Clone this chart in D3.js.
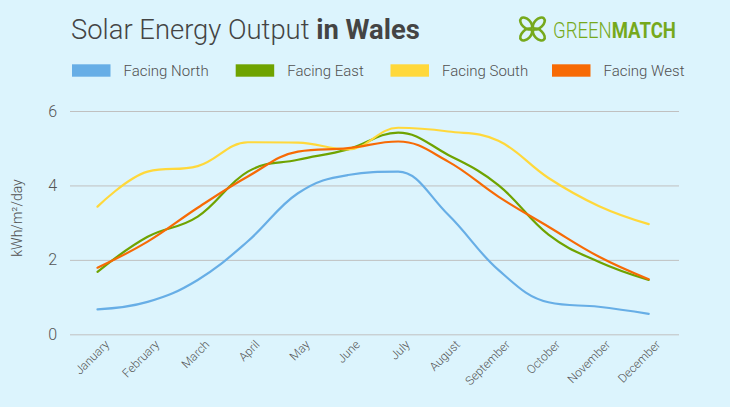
<!DOCTYPE html>
<html><head><meta charset="utf-8">
<script src="https://cdn.jsdelivr.net/npm/d3@7"></script>
<style>
html,body{margin:0;padding:0;background:#dcf4fd;}
svg{display:block;font-family:Roboto,"Open Sans",sans-serif;}
</style></head>
<body><svg id="c" width="730" height="407"></svg>
<script>
const months = ["January","February","March","April","May","June","July","August","September","October","November","December"];
const seriesNames = ["Facing North","Facing East","Facing South","Facing West"];
const seriesColors = ["#67aee6","#6fa300","#ffd83b","#f76a05"];
const north = [0.67, 0.87, 1.46, 2.50, 3.79, 4.28, 4.37, 3.21, 1.73, 0.86, 0.74, 0.55];
const east  = [1.68, 2.62, 3.16, 4.37, 4.69, 4.97, 5.42, 4.82, 4.01, 2.68, 1.95, 1.46];
const south = [3.43, 4.37, 4.52, 5.16, 5.15, 4.97, 5.55, 5.45, 5.20, 4.20, 3.45, 2.96];
const west  = [1.79, 2.49, 3.40, 4.24, 4.91, 5.00, 5.18, 4.64, 3.70, 2.89, 2.09, 1.48];
const yTicks = [0,2,4,6];

const svg = d3.select("#c");
svg.append("rect").attr("width",730).attr("height",407).attr("fill","#dcf4fd");

const x = d3.scalePoint().domain(months).range([97.5, 648.7]);
const y = d3.scaleLinear().domain([0,6]).range([334.3, 111]);

// title
const t = svg.append("text").attr("x",71).attr("y",39).attr("font-size",27.4).attr("fill","#444");
t.append("tspan").attr("font-weight",300).text("Solar Energy Output ");
t.append("tspan").attr("font-weight",700).text("in Wales");

// logo
const logo = svg.append("g").attr("transform","translate(532.5,29)");
[[-1,-1],[1,-1],[-1,1],[1,1]].forEach(([sx,sy])=>{
  logo.append("ellipse").attr("cx",sx*6.3).attr("cy",sy*5.6).attr("rx",7.2).attr("ry",4.3)
    .attr("transform",`rotate(${sx*sy*45} ${sx*6.3} ${sy*5.6})`)
    .attr("fill","none").attr("stroke","#76a91c").attr("stroke-width",2.6);
});
const lg = svg.append("g");
const lt = lg.append("text").attr("x",0).attr("y",0).attr("font-size",22).attr("fill","#76a91c");
lt.append("tspan").attr("font-weight",300).text("GREEN");
lt.append("tspan").attr("font-weight",700).text("MATCH");
const lw = lt.node().getComputedTextLength() || 140;
lg.attr("transform",`translate(553,37.5) scale(${123/lw},1)`);

// legend
const legX = [72, 235.7, 390.5, 552];
seriesNames.forEach((n,i)=>{
  svg.append("rect").attr("x",legX[i]).attr("y",64.3).attr("width",38.5).attr("height",12.4).attr("fill",seriesColors[i]);
  svg.append("text").attr("x",legX[i]+51.5).attr("y",75.5).attr("font-size",15).attr("font-weight",300)
    .attr("fill","#505050").text(n);
});

// y axis with grid
const ya = svg.append("g").attr("transform","translate(70,0)")
  .call(d3.axisLeft(y).tickValues(yTicks).tickSize(-609).tickPadding(13).tickFormat(d3.format("d")));
ya.select(".domain").remove();
ya.selectAll(".tick line").attr("stroke","#c0c0c0").attr("stroke-width",1);
ya.selectAll(".tick text").attr("font-size",16).attr("font-weight",300).attr("fill","#555").attr("font-family","Roboto");

svg.append("text").attr("transform","translate(22,218) rotate(-90)").attr("text-anchor","middle")
  .attr("font-size",14).attr("font-weight",300).attr("fill","#505050").text("kWh/m²/day");

// x axis labels
const xa = svg.append("g").attr("transform","translate(0,334.3)")
  .call(d3.axisBottom(x).tickSize(0).tickPadding(0));
xa.select(".domain").remove();
xa.selectAll(".tick text").attr("font-size",12).attr("font-weight",300).attr("fill","#555").attr("font-family","Roboto")
  .attr("text-anchor","end").attr("dy",null).attr("y",null)
  .attr("transform","translate(12,11) rotate(-45)");

// Highcharts-like spline
function spline(vals){
  const pts = vals.map((v,i)=>[x(months[i]), y(v)]);
  const p = d3.path(); const sm=1.5, den=2.5;
  let prc=null;
  pts.forEach(([px,py],i)=>{
    if(i===0){p.moveTo(px,py); prc=[px,py]; return;}
    let lcx=px,lcy=py,rcx=px,rcy=py;
    if(i<pts.length-1){
      const [lx,ly]=pts[i-1],[nx,ny]=pts[i+1];
      lcx=(sm*px+lx)/den; lcy=(sm*py+ly)/den; rcx=(sm*px+nx)/den; rcy=(sm*py+ny)/den;
      let corr=0;
      if(rcx!==lcx) corr=((rcy-lcy)*(rcx-px))/(rcx-lcx)+py-rcy;
      lcy+=corr; rcy+=corr;
      if(lcy>ly&&lcy>py){lcy=Math.max(ly,py); rcy=2*py-lcy;}
      else if(lcy<ly&&lcy<py){lcy=Math.min(ly,py); rcy=2*py-lcy;}
      if(rcy>ny&&rcy>py){rcy=Math.max(ny,py); lcy=2*py-rcy;}
      else if(rcy<ny&&rcy<py){rcy=Math.min(ny,py); lcy=2*py-rcy;}
    }
    p.bezierCurveTo(prc[0],prc[1],lcx,lcy,px,py);
    prc=[rcx,rcy];
  });
  return p.toString();
}
const allSeries = [north, east, south, west];
[0,1,2,3].forEach(i=>{
  svg.append("path").attr("d",spline(allSeries[i])).attr("fill","none")
    .attr("stroke",seriesColors[i]).attr("stroke-width",2.2).attr("stroke-linejoin","round").attr("stroke-linecap","round");
});
</script></body></html>
